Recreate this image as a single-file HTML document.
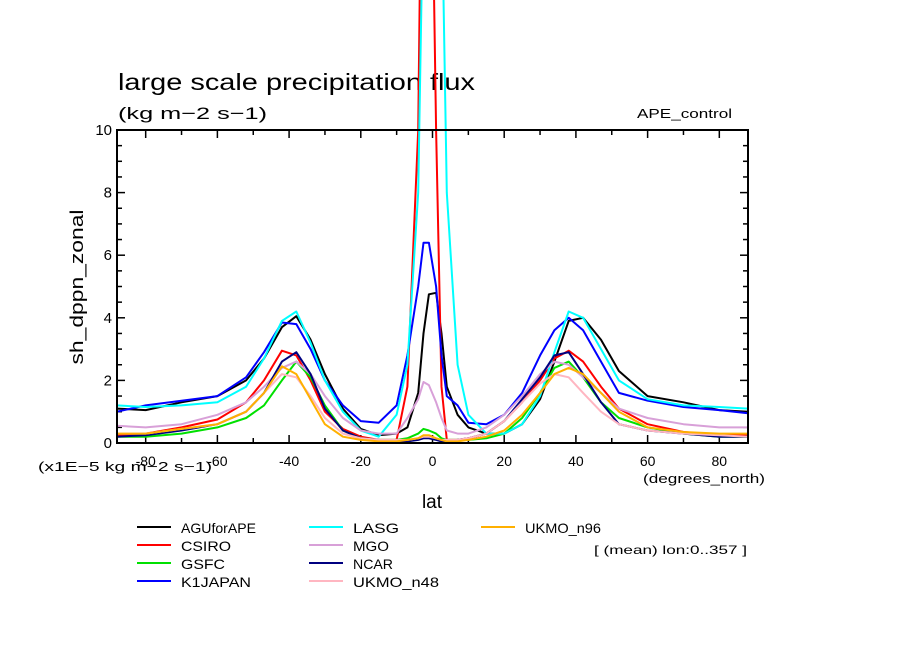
<!DOCTYPE html>
<html><head><meta charset="utf-8"><style>
body{margin:0;background:#fff}
svg{display:block;font-family:"Liberation Sans",sans-serif}
</style></head><body>
<svg id="chart" width="904" height="654" viewBox="0 0 904 654">
<text x="118" y="90" font-size="23" textLength="357" lengthAdjust="spacingAndGlyphs">large scale precipitation flux</text>
<text x="118" y="119" font-size="17" textLength="149" lengthAdjust="spacingAndGlyphs">(kg m−2 s−1)</text>
<text x="637" y="118" font-size="13" textLength="95" lengthAdjust="spacingAndGlyphs">APE_control</text>
<text transform="translate(83,287) rotate(-90)" text-anchor="middle" font-size="18" textLength="155" lengthAdjust="spacingAndGlyphs">sh_dppn_zonal</text>
<text x="432" y="508" text-anchor="middle" font-size="19">lat</text>
<text x="38" y="471" font-size="13" textLength="174" lengthAdjust="spacingAndGlyphs">(x1E−5 kg m−2 s−1)</text>
<text x="643" y="483" font-size="13" textLength="122" lengthAdjust="spacingAndGlyphs">(degrees_north)</text>
<text x="594" y="554" font-size="12" textLength="153" lengthAdjust="spacingAndGlyphs">[ (mean) lon:0..357 ]</text>
<g id="ticks"></g>
<g id="series"></g>
<rect x="117" y="130" width="631" height="313" fill="none" stroke="#000" stroke-width="2"/>
<g id="legend"></g>
</svg>
<script>
const lats=[-88,-80,-70,-60,-52,-47,-42,-38,-34,-30,-25,-20,-15,-10,-7,-4,-2.5,-1,1,2.5,4,7,10,15,20,25,30,34,38,42,47,52,60,70,80,88];
const names=["AGUforAPE","CSIRO","GSFC","K1JAPAN","LASG","MGO","NCAR","UKMO_n48","UKMO_n96"];
const colors=["#000000","#ff0000","#00e000","#0000ff","#00ffff","#d8a0d8","#000080","#ffb6c1","#ffb000"];
const agu=[1.1,1.05,1.3,1.5,2.0,2.7,3.7,4.05,3.3,2.2,1.1,0.45,0.25,0.3,0.5,1.6,3.5,4.75,4.8,3.5,1.8,0.9,0.5,0.3,0.3,0.6,1.4,2.6,3.9,4.0,3.3,2.3,1.5,1.3,1.05,1.0];
const csiro=[0.25,0.3,0.5,0.75,1.3,2.0,2.95,2.8,2.0,1.0,0.45,0.2,0.1,0.1,1.8,10,25,25,10,1.8,0.1,0.1,0.15,0.3,0.7,1.3,2.0,2.7,2.95,2.6,1.8,1.1,0.6,0.35,0.25,0.25];
const gsfc=[0.2,0.2,0.3,0.5,0.8,1.2,2.0,2.6,2.1,1.2,0.4,0.15,0.1,0.1,0.15,0.3,0.45,0.4,0.3,0.15,0.1,0.1,0.1,0.15,0.3,0.8,1.6,2.4,2.6,2.1,1.3,0.8,0.5,0.3,0.2,0.2];
const k1japan=[1.0,1.2,1.35,1.5,2.1,2.9,3.85,3.8,3.0,2.0,1.2,0.7,0.65,1.2,2.8,5.0,6.4,6.4,5.0,2.8,1.5,1.2,0.65,0.6,0.9,1.6,2.8,3.6,4.0,3.6,2.6,1.6,1.35,1.15,1.05,0.95];
const lasg=[1.2,1.15,1.2,1.3,1.8,2.7,3.9,4.2,3.2,2.0,1.0,0.4,0.2,0.9,2.5,8,18,30,30,18,8,2.5,0.9,0.3,0.3,0.6,1.5,2.9,4.2,4.0,3.0,2.0,1.4,1.2,1.15,1.1];
const mgo=[0.55,0.5,0.6,0.9,1.3,1.8,2.4,2.6,2.2,1.5,0.8,0.4,0.3,0.3,0.8,1.4,1.95,1.85,1.3,0.8,0.4,0.3,0.3,0.5,0.9,1.5,2.2,2.6,2.5,2.1,1.6,1.1,0.8,0.6,0.5,0.5];
const ncar=[0.2,0.25,0.4,0.6,1.0,1.6,2.6,2.9,2.2,1.1,0.4,0.15,0.1,0.05,0.05,0.1,0.15,0.15,0.1,0.05,0.05,0.1,0.15,0.3,0.7,1.4,2.1,2.8,2.9,2.2,1.3,0.6,0.4,0.3,0.2,0.2];
const n48=[0.3,0.3,0.45,0.6,1.0,1.6,2.2,2.1,1.5,0.8,0.3,0.15,0.1,0.1,0.1,0.15,0.2,0.2,0.15,0.1,0.1,0.1,0.15,0.3,0.7,1.3,1.9,2.2,2.1,1.6,1.0,0.6,0.4,0.3,0.25,0.2];
const n96=[0.3,0.3,0.45,0.6,1.0,1.6,2.45,2.2,1.4,0.6,0.2,0.1,0.05,0.05,0.1,0.15,0.25,0.25,0.15,0.1,0.05,0.05,0.1,0.2,0.4,0.9,1.6,2.2,2.4,2.2,1.6,1.0,0.5,0.35,0.3,0.3];
const seriesVals=[agu,csiro,gsfc,k1japan,lasg,mgo,ncar,n48,n96];
const xTicks=[-80,-60,-40,-20,0,20,40,60,80];
const yTicks=[0,2,4,6,8,10];

const X0=117,X1=748,Y0=443,Y1=130,LMIN=-88,LMAX=88,VMAX=10;
function sx(v){return X0+(v-LMIN)/(LMAX-LMIN)*(X1-X0);}
function sy(v){return Y0-v/VMAX*(Y0-Y1);}
const NS="http://www.w3.org/2000/svg";
function mk(t,a,p){const e=document.createElementNS(NS,t);for(const k in a)e.setAttribute(k,a[k]);p.appendChild(e);return e;}
const tg=document.getElementById('ticks');
for(let l=-80;l<=80;l+=10){const x=sx(l);const L=(l%20===0)?8:5;
 const t1=mk('line',{x1:x,x2:x,y1:Y0,y2:Y0-L,stroke:'#000','stroke-width':1.5},tg);
 
 
 mk('line',{x1:x,x2:x,y1:Y1,y2:Y1+L,stroke:'#000','stroke-width':1.5},tg);}
for(let v=0.5;v<10;v+=0.5){const y=sy(v);const L=(v%2===0)?8:5;
 const t2=mk('line',{x1:X0,x2:X0+L,y1:y,y2:y,stroke:'#000','stroke-width':1.5},tg);
 
 
 mk('line',{x1:X1,x2:X1-L,y1:y,y2:y,stroke:'#000','stroke-width':1.5},tg);}
xTicks.forEach(l=>{const t=mk('text',{x:sx(l),y:466,'text-anchor':'middle','font-size':14},tg);t.textContent=l;
 
 });
yTicks.forEach(v=>{const t=mk('text',{x:112,y:sy(v)+5,'text-anchor':'end','font-size':15},tg);t.textContent=v;
 
 });
const sg=document.getElementById('series');
seriesVals.forEach((vals,i)=>{
 const pts=vals.map((v,j)=>sx(lats[j]).toFixed(1)+','+sy(v).toFixed(1)).join(' ');
 const p=mk('polyline',{points:pts,fill:'none',stroke:colors[i],'stroke-width':2,'stroke-linejoin':'round'},sg);
 
 
});
const lg=document.getElementById('legend');
const legW=[75,50,44,70,46,36,40,86,76];
names.forEach((n,i)=>{const col=Math.floor(i/4),row=i%4;const x=137+col*172,y=527+row*18;
 const g=mk('g',{},lg);
 
 
 mk('line',{x1:x,x2:x+34,y1:y,y2:y,stroke:colors[i],'stroke-width':2},g);
 const t=mk('text',{x:x+44,y:y+6,'font-size':14,textLength:legW[i],lengthAdjust:'spacingAndGlyphs'},g);t.textContent=n;});
</script>
</body></html>
